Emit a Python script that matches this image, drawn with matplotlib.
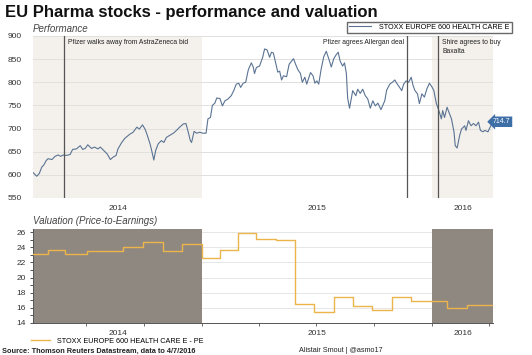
import numpy as np
import pandas as pd
import matplotlib
matplotlib.use("Agg")
import matplotlib.pyplot as plt
import matplotlib.dates as mdates

plt.rcParams['font.family'] = ['Liberation Sans', 'DejaVu Sans']

# ---- data ----------------------------------------------------------------
start = pd.Timestamp('2014-04-07')

# STOXX Europe 600 Health Care, days since 7 Apr 2014
perf_days = [0, 6, 10, 14, 17, 21, 24, 30, 35, 40, 44, 48, 53, 59, 63, 69, 75, 79,
             83, 87, 93, 98, 103, 107, 113, 118, 123, 127, 132, 135, 141, 146, 154,
             159, 165, 169, 174, 178, 181, 186, 188, 192, 195, 199, 204, 208, 212,
             217, 223, 228, 233, 239, 243, 246, 250, 252, 256, 260, 265, 270, 275,
             278, 282, 285, 289, 292, 297, 301, 305, 310, 315, 319, 323, 327, 330,
             334, 338, 342, 344, 347, 350, 352, 355, 360, 365, 368, 372, 376, 379,
             382, 386, 389, 392, 395, 398, 403, 407, 411, 414, 417, 421, 425, 428,
             432, 435, 441, 445, 448, 451, 454, 458, 462, 466, 470, 474, 478, 482,
             485, 488, 492, 495, 498, 500, 503, 506, 508, 513, 516, 520, 524, 528,
             532, 536, 540, 544, 548, 553, 559, 562, 567, 571, 575, 578, 582, 586,
             589, 593, 597, 601, 604, 607, 611, 614, 618, 622, 626, 630, 634, 637,
             641, 644, 649, 651, 654, 658, 662, 665, 669, 671, 674, 678, 681, 686,
             688, 692, 696, 700, 704, 708, 711, 715, 718, 723, 725, 731]
perf_vals = [605, 597, 603, 617, 621, 631, 635, 633, 640, 643, 640, 643, 642, 644,
             655, 656, 663, 655, 657, 665, 657, 660, 656, 660, 652, 645, 633, 638,
             642, 656, 670, 679, 688, 692, 703, 699, 708, 699, 688, 667, 656, 632,
             653, 667, 674, 670, 681, 685, 690, 696, 703, 710, 711, 696, 674, 670,
             694, 690, 692, 690, 690, 721, 724, 750, 755, 766, 765, 749, 760, 764,
             771, 782, 796, 798, 789, 798, 800, 826, 833, 842, 833, 819, 832, 835,
             854, 872, 870, 854, 865, 863, 840, 822, 824, 805, 814, 812, 839, 846,
             851, 840, 827, 819, 800, 811, 796, 821, 814, 798, 803, 796, 829, 855,
             867, 851, 833, 851, 860, 865, 846, 835, 842, 819, 766, 744, 766, 782,
             771, 785, 776, 785, 771, 764, 744, 760, 749, 755, 741, 760, 783, 796,
             800, 805, 798, 790, 782, 796, 803, 800, 811, 793, 782, 775, 754, 775,
             768, 786, 798, 790, 782, 754, 743, 721, 739, 724, 746, 732, 721, 693,
             663, 658, 685, 699, 706, 696, 717, 706, 711, 706, 714, 696, 693, 696,
             693, 699, 714.7]

# price-to-earnings, step changes (days since 7 Apr 2014)
pe_days = [0, 24, 51, 86, 143, 175, 206, 236, 268, 297, 325, 355, 386, 416, 446,
           478, 508, 539, 570, 600, 658, 690]
pe_vals = [23.1, 23.65, 23.1, 23.55, 24.1, 24.75, 23.5, 24.5, 22.6, 23.65, 25.95,
           25.1, 24.98, 16.45, 15.45, 17.35, 16.2, 15.75, 17.45, 16.9, 16.0, 16.35]

events = [('2014-05-26', 'Pfizer walks away from AstraZeneca bid'),
          ('2015-11-23', 'Pfizer agrees Allergan deal'),
          ('2016-01-11', 'Shire agrees to buy\nBaxalta')]

year_labels = ['2014', '2015', '2016']
perf_ticks = [550, 600, 650, 700, 750, 800, 850, 900]
pe_ticks = [14, 16, 18, 20, 22, 24, 26]

# --------------------------------------------------------------------------
end = start + pd.Timedelta(days=731)
perf_x = start + pd.to_timedelta(perf_days, unit='D')
pe_x = list(start + pd.to_timedelta(pe_days, unit='D')) + [end]
pe_y = pe_vals + [pe_vals[-1]]

y15 = pd.Timestamp('2015-01-01')
y16 = pd.Timestamp('2016-01-01')
centers = [start + (y15 - start) / 2, y15 + (y16 - y15) / 2, y16 + (end - y16) / 2]

fig = plt.figure(figsize=(5.32, 3.55), dpi=100)
ax1 = fig.add_axes([33/532, 1 - 198/355, 460/532, 162/355])
ax2 = fig.add_axes([33/532, 1 - 322.7/355, 460/532, 93.4/355])

txt = '#333333'

# ---- top: performance ----
ax1.axvspan(start, y15, color='#f4f1ec', zorder=0, lw=0)
ax1.axvspan(y16, end, color='#f4f1ec', zorder=0, lw=0)
ax1.plot(perf_x, perf_vals, color='#5a7393', lw=0.8, zorder=3,
         label='STOXX EUROPE 600 HEALTH CARE E')
ax1.set_xlim(start, end)
ax1.set_ylim(550, 900)
ax1.set_yticks(perf_ticks)
ax1.yaxis.grid(True, color='#e2e0dc', lw=0.7, zorder=1)
ax1.set_axisbelow(True)
for s in ax1.spines.values():
    s.set_visible(False)
ax1.tick_params(axis='y', length=0, labelsize=6, colors=txt, pad=8)
ax1.set_xticks(centers)
ax1.set_xticklabels(year_labels)
ax1.tick_params(axis='x', length=0, labelsize=6, colors=txt, pad=5)

for d, lab in events:
    d = pd.Timestamp(d)
    ax1.axvline(d, color='#555555', lw=0.9, zorder=4)
    if 'Allergan' in lab:
        ax1.text(d - pd.Timedelta(days=6), 893, lab, fontsize=4.9, ha='right',
                 va='top', color='#222222')
    else:
        ax1.text(d + pd.Timedelta(days=6), 893, lab, fontsize=4.9, ha='left',
                 va='top', color='#222222', linespacing=1.3)

ax1.text(end, perf_vals[-1], '%.1f' % perf_vals[-1], fontsize=5, color='white',
         ha='left', va='center',
         bbox=dict(boxstyle='larrow,pad=0.25', fc='#3e6ea6', ec='none'))
ax1.text(0, 1.015, 'Performance', transform=ax1.transAxes, fontsize=7,
         style='italic', color='#444444', ha='left', va='bottom')
ax1.legend(loc='center', bbox_to_anchor=(429.5/532, 1 - 27.5/355),
           bbox_transform=fig.transFigure, fontsize=5.2, frameon=True,
           fancybox=False, edgecolor='#444444', borderpad=0.25,
           handlelength=3, handletextpad=1.2, borderaxespad=0)

# ---- bottom: valuation ----
ax2.axvspan(start, y15, color='#8f8881', zorder=2, lw=0)
ax2.axvspan(y16, end, color='#8f8881', zorder=2, lw=0)
ax2.step(pe_x, pe_y, where='post', color='#ebb54b', lw=1.0, zorder=3,
         label='STOXX EUROPE 600 HEALTH CARE E - PE')
ax2.set_xlim(start, end)
ax2.set_ylim(14, 26.4)
ax2.set_yticks(pe_ticks)
ax2.set_yticks(np.arange(15, 26, 2), minor=True)
ax2.yaxis.grid(True, color='#e6e6e6', lw=0.7, zorder=1)
for k in ['top', 'right']:
    ax2.spines[k].set_visible(False)
for k in ['left', 'bottom']:
    ax2.spines[k].set_color('#555555')
    ax2.spines[k].set_linewidth(0.7)
ax2.tick_params(axis='y', which='both', length=2, width=0.6, labelsize=6,
                colors=txt, pad=3)
qticks = pd.to_datetime(['2014-07-01', '2014-10-01', '2015-01-01', '2015-04-01',
                         '2015-07-01', '2015-10-01', '2016-01-01', '2016-04-01'])
ax2.set_xticks(qticks, minor=True)
ax2.tick_params(axis='x', which='minor', length=2.5, width=0.6, colors='#555555')
ax2.set_xticks(centers)
ax2.set_xticklabels(year_labels)
ax2.tick_params(axis='x', which='major', length=0, labelsize=6, colors=txt, pad=5)
ax2.text(0, 1.03, 'Valuation (Price-to-Earnings)', transform=ax2.transAxes,
         fontsize=7, style='italic', color='#444444', ha='left', va='bottom')
ax2.legend(loc='center left', bbox_to_anchor=(31/532, 1 - 341/355),
           bbox_transform=fig.transFigure, fontsize=5.2, frameon=False,
           borderpad=0, borderaxespad=0, handlelength=2.6, handletextpad=1.0)

fig.text(5/532, 1 - 12/355, 'EU Pharma stocks - performance and valuation',
         fontsize=12, fontweight='bold', color='#111111', ha='left', va='center')
fig.text(2/532, 1 - 351/355, 'Source: Thomson Reuters Datastream, data to 4/7/2016',
         fontsize=5.3, color='#222222', ha='left', va='center', fontweight='bold')
fig.text(299/532, 1 - 350/355, 'Alistair Smout | @asmo17', fontsize=5.2,
         color='#222222', ha='left', va='center')

fig.savefig('out.png', dpi=100)
